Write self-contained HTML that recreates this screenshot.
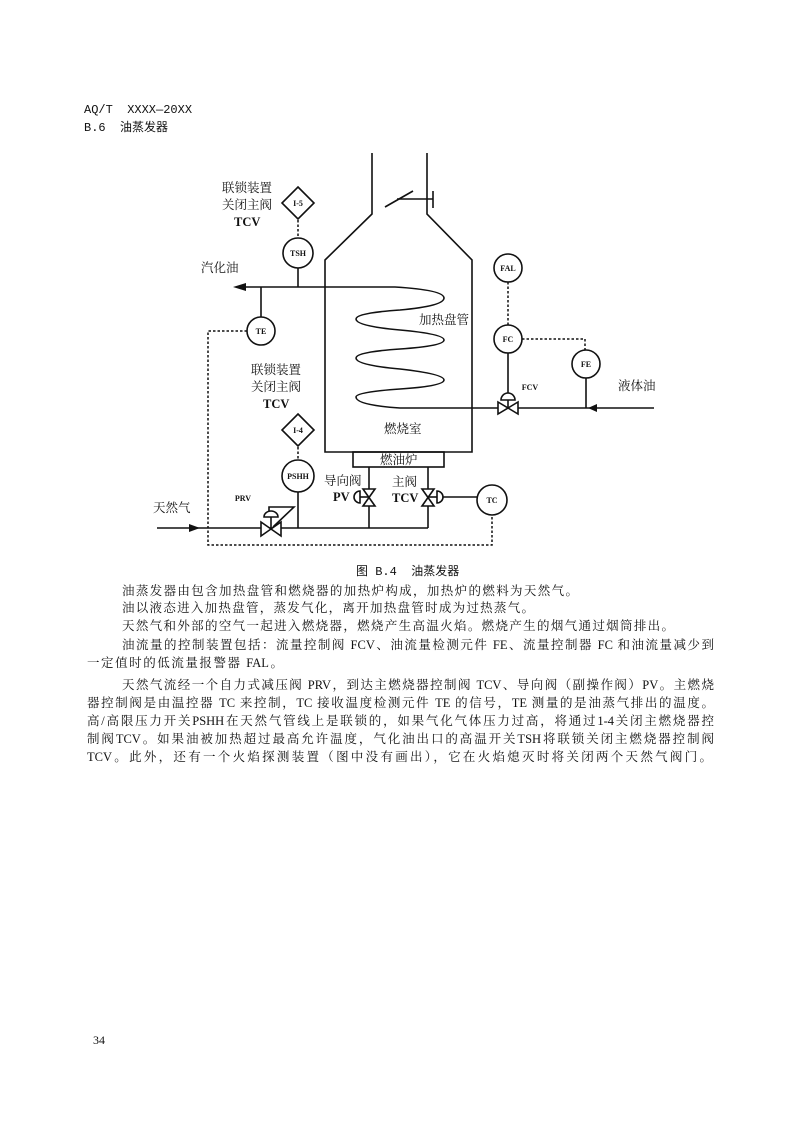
<!DOCTYPE html>
<html><head><meta charset="utf-8"><style>
html,body{margin:0;padding:0;background:#fff}
body{width:794px;height:1123px;position:relative;overflow:hidden;font-family:"Liberation Serif","Noto Serif CJK SC",serif;color:#111}
.t{position:absolute;font-size:12.5px;line-height:14px;white-space:nowrap}
.j{text-align:justify;text-align-last:justify;white-space:normal}
svg{position:absolute;left:0;top:0}
</style></head><body>
<div class="t" style="left:84px;top:103px;font-family:'Liberation Mono','Noto Sans CJK SC',monospace;font-size:12px;">AQ/T&nbsp;&nbsp;XXXX—20XX</div>
<div class="t" style="left:84px;top:121px;font-family:'Liberation Mono','Noto Sans CJK SC',monospace;font-size:12px;">B.6&nbsp;&nbsp;油蒸发器</div>

<svg width="794" height="1123" viewBox="0 0 794 1123" font-family="'Liberation Serif','Noto Serif CJK SC',serif">
<g fill="none" stroke="#111" stroke-width="1.6">
<polyline points="372,153 372,214 325,260 325,452 472,452 472,260 427,214 427,153"/>
<line x1="385" y1="207" x2="413" y2="191"/>
<line x1="397" y1="199" x2="433" y2="199"/>
<line x1="433" y1="191" x2="433" y2="208"/>
<rect x="353" y="452" width="91" height="15"/>
<path d="M240,287 L395,287 Q444,290 444,298 Q444,306 400,310 Q356,313 356,319 Q356,326 400,330 Q444,334 444,340 Q444,346 400,349 Q356,352 356,358 Q356,365 400,369 Q444,374 444,380 Q444,386 400,389 Q356,392 356,397 Q356,405 400,408 L654,408"/>
<line x1="298" y1="268" x2="298" y2="287"/>
<line x1="261" y1="287" x2="261" y2="317"/>
<circle cx="298" cy="253" r="15"/>
<circle cx="261" cy="331" r="14"/>
<polygon points="298,187 314,203 298,219 282,203"/>
<polygon points="298,414 314,430 298,446 282,430"/>
<circle cx="298" cy="476" r="16"/>
<line x1="298" y1="492" x2="298" y2="528"/>
<line x1="157" y1="528" x2="428" y2="528"/>
<line x1="369" y1="467" x2="369" y2="528"/>
<line x1="428" y1="467" x2="428" y2="528"/>
<!-- PRV -->
<line x1="271" y1="517" x2="271" y2="529"/>
<polygon points="261,522 281,536 281,522 261,536" fill="#fff"/>
<path d="M264,517 A7,6 0 0 1 278,517 Z" fill="#fff"/>
<polyline points="269,511 269,507 294,507 273,527"/>
<!-- PV -->
<polygon points="363,489 375,489 363,506 375,506" fill="#fff"/>
<path d="M360,491 A6,6 0 0 0 360,503 Z" fill="#fff"/>
<line x1="360" y1="497" x2="369" y2="497"/>
<!-- TCV -->
<polygon points="422,489 434,489 422,506 434,506" fill="#fff"/>
<path d="M437,491 A6,6 0 0 1 437,503 Z" fill="#fff"/>
<line x1="428" y1="497" x2="437" y2="497"/>
<line x1="443" y1="497" x2="477" y2="497"/>
<circle cx="492" cy="500" r="15"/>
<!-- right -->
<circle cx="508" cy="268" r="14"/>
<circle cx="508" cy="339" r="14"/>
<circle cx="586" cy="364" r="14"/>
<line x1="508" y1="353" x2="508" y2="393"/>
<path d="M501,400 A7,7 0 0 1 515,400 Z" fill="#fff"/>
<line x1="508" y1="400" x2="508" y2="408"/>
<polygon points="498,402 518,414 518,402 498,414" fill="#fff"/>
<line x1="586" y1="378" x2="586" y2="408"/>
</g>
<g fill="none" stroke="#111" stroke-width="1.5" stroke-dasharray="2.5,2">
<line x1="298" y1="220" x2="298" y2="238"/>
<line x1="298" y1="447" x2="298" y2="460"/>
<polyline points="247,331 208,331 208,545 492,545 492,515"/>
<line x1="508" y1="282" x2="508" y2="325"/>
<polyline points="522,339 585,339 585,350"/>
</g>
<g fill="#111">
<polygon points="233,287 246,283 246,291"/>
<polygon points="200,528 189,524 189,532"/>
<polygon points="588,408 597,404 597,412"/>
</g>
<g font-size="12.5" fill="#111">
<text x="222" y="192">联锁装置</text>
<text x="222" y="209">关闭主阀</text>
<text x="234" y="226" font-weight="bold">TCV</text>
<text x="201" y="272">汽化油</text>
<text x="251" y="374">联锁装置</text>
<text x="251" y="391">关闭主阀</text>
<text x="263" y="408" font-weight="bold">TCV</text>
<text x="153" y="512">天然气</text>
<text x="419" y="324">加热盘管</text>
<text x="384" y="433">燃烧室</text>
<text x="380" y="464">燃油炉</text>
<text x="324" y="485">导向阀</text>
<text x="333" y="501" font-weight="bold">PV</text>
<text x="392" y="486">主阀</text>
<text x="392" y="502" font-weight="bold">TCV</text>
<text x="618" y="390">液体油</text>
</g>
<g font-size="8" font-weight="bold" fill="#111" text-anchor="middle">
<text x="298" y="206">I-5</text>
<text x="298" y="433">I-4</text>
<text x="298" y="256">TSH</text>
<text x="261" y="334">TE</text>
<text x="298" y="479">PSHH</text>
<text x="492" y="503">TC</text>
<text x="508" y="271">FAL</text>
<text x="508" y="342">FC</text>
<text x="586" y="367">FE</text>
<text x="530" y="390">FCV</text>
<text x="243" y="501">PRV</text>
</g>
</svg>

<div class="t" style="left:356px;top:565px;font-family:'Liberation Mono','Noto Sans CJK SC',monospace;font-size:12px;">图 B.4&nbsp;&nbsp;油蒸发器</div>
<div class="t j" style="left:122px;top:584px;width:456px">油蒸发器由包含加热盘管和燃烧器的加热炉构成，加热炉的燃料为天然气。</div>
<div class="t j" style="left:122px;top:601px;width:412px">油以液态进入加热盘管，蒸发气化，离开加热盘管时成为过热蒸气。</div>
<div class="t j" style="left:122px;top:619px;width:552px">天然气和外部的空气一起进入燃烧器，燃烧产生高温火焰。燃烧产生的烟气通过烟筒排出。</div>
<div class="t j" style="left:122px;top:638px;width:592px">油流量的控制装置包括：流量控制阀 FCV、油流量检测元件 FE、流量控制器 FC 和油流量减少到</div>
<div class="t j" style="left:87px;top:656px;width:196px">一定值时的低流量报警器 FAL。</div>
<div class="t j" style="left:122px;top:678px;width:592px">天然气流经一个自力式减压阀 PRV，到达主燃烧器控制阀 TCV、导向阀（副操作阀）PV。主燃烧</div>
<div class="t j" style="left:87px;top:696px;width:627px">器控制阀是由温控器 TC 来控制，TC 接收温度检测元件 TE 的信号，TE 测量的是油蒸气排出的温度。</div>
<div class="t j" style="left:87px;top:714px;width:627px">高/高限压力开关PSHH在天然气管线上是联锁的，如果气化气体压力过高，将通过1-4关闭主燃烧器控</div>
<div class="t j" style="left:87px;top:732px;width:627px">制阀TCV。如果油被加热超过最高允许温度，气化油出口的高温开关TSH将联锁关闭主燃烧器控制阀</div>
<div class="t j" style="left:87px;top:750px;width:625px">TCV。此外，还有一个火焰探测装置（图中没有画出），它在火焰熄灭时将关闭两个天然气阀门。</div>
<div class="t" style="left:93px;top:1033px;font-size:12px">34</div>
</body></html>
